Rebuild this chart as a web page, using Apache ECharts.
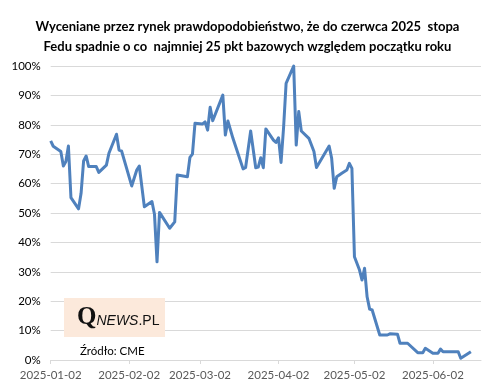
<!DOCTYPE html>
<html><head><meta charset="utf-8">
<script src="https://cdn.jsdelivr.net/npm/echarts@6/dist/echarts.min.js"></script>
<style>html,body{margin:0;padding:0;background:#fff}#c{width:495px;height:391px}</style>
</head><body><div id="c"></div>
<script>
const titleLines = ['Wyceniane przez rynek prawdopodobieństwo, że do czerwca 2025  stopa', 'Fedu spadnie o co  najmniej 25 pkt bazowych względem początku roku'];
const dates = ['2025-01-02','2025-01-03','2025-01-06','2025-01-07','2025-01-08','2025-01-09','2025-01-10','2025-01-13','2025-01-14','2025-01-15','2025-01-16','2025-01-17','2025-01-20','2025-01-21','2025-01-24','2025-01-25','2025-01-28','2025-01-29','2025-01-30','2025-02-01','2025-02-03','2025-02-05','2025-02-06','2025-02-08','2025-02-11','2025-02-12','2025-02-13','2025-02-14','2025-02-18','2025-02-20','2025-02-21','2025-02-25','2025-02-26','2025-02-27','2025-02-28','2025-03-03','2025-03-04','2025-03-05','2025-03-06','2025-03-07','2025-03-11','2025-03-12','2025-03-13','2025-03-15','2025-03-19','2025-03-20','2025-03-22','2025-03-24','2025-03-25','2025-03-26','2025-03-27','2025-03-28','2025-03-31','2025-04-01','2025-04-02','2025-04-03','2025-04-04','2025-04-05','2025-04-08','2025-04-09','2025-04-10','2025-04-11','2025-04-14','2025-04-16','2025-04-17','2025-04-22','2025-04-23','2025-04-24','2025-04-25','2025-04-27','2025-04-29','2025-04-30','2025-05-01','2025-05-02','2025-05-04','2025-05-05','2025-05-06','2025-05-07','2025-05-08','2025-05-09','2025-05-12','2025-05-15','2025-05-16','2025-05-19','2025-05-20','2025-05-23','2025-05-27','2025-05-29','2025-05-30','2025-06-02','2025-06-04','2025-06-05','2025-06-06','2025-06-12','2025-06-13','2025-06-17'];
const probability = [74.5,72.7,70.9,66.0,67.5,72.8,55.2,51.4,56.7,67.7,69.4,65.8,65.8,63.8,66.3,70.3,76.8,71.4,71.1,65.2,59.2,64.6,66.0,52.1,53.9,49.6,33.4,50.2,44.8,47.0,62.9,62.3,68.9,70.0,80.5,80.3,81.0,78.2,86.0,81.4,90.1,76.5,81.3,75.4,65.0,65.5,77.9,65.4,65.6,68.8,65.4,78.6,74.8,74.0,75.6,67.2,79.0,94.1,100,73.1,84.5,77.9,75.4,70.9,65.5,72.8,68.6,58.4,62.3,63.5,64.6,66.9,65.2,35.1,30.6,27.2,31.2,21.5,17.3,17.0,8.5,8.5,8.9,8.8,5.7,5.7,2.5,2.5,4.0,2.3,2.3,3.7,2.8,2.8,0.6,2.8];
const xTickDates = ['2025-01-02','2025-02-02','2025-03-02','2025-04-02','2025-05-02','2025-06-02'];
const xMin = '2025-01-02', xMax = '2025-06-21';
const sourceText = 'Źródło: CME';

function ts(s){const p=s.split('-').map(Number);return Date.UTC(p[0],p[1]-1,p[2]);}
function fmt(v){const d=new Date(v);const p=n=>String(n).padStart(2,'0');return d.getUTCFullYear()+'-'+p(d.getUTCMonth()+1)+'-'+p(d.getUTCDate());}
const tickVals = xTickDates.map(ts);
const chart = echarts.init(document.getElementById('c'), null, {renderer:'canvas'});
chart.setOption({
  animation:false,
  title:{text:titleLines.join('\n'), left:'center', top:12, textStyle:{fontFamily:'Lato', fontWeight:'bold', fontSize:13, lineHeight:20, color:'#000'}},
  grid:{left:50.7, right:14, top:66, bottom:31},
  xAxis:{type:'value', min:ts(xMin), max:ts(xMax),
    axisLine:{lineStyle:{color:'#d9d9d9'}},
    axisTick:{show:true, customValues:tickVals, length:4, lineStyle:{color:'#d9d9d9'}},
    axisLabel:{customValues:tickVals, formatter:v=>fmt(v), color:'#595959', fontFamily:'Lato', fontSize:11.5, margin:9, hideOverlap:false},
    splitLine:{show:false}},
  yAxis:{type:'value', min:0, max:100, interval:10,
    axisLabel:{formatter:'{value}%', color:'#000', fontFamily:'Lato', fontSize:11.5, margin:10},
    axisLine:{show:false}, axisTick:{show:false},
    splitLine:{lineStyle:{color:'#d9d9d9', width:1}}},
  series:[{type:'line', data:dates.map((d,i)=>[ts(d),probability[i]]), showSymbol:false, clip:false,
    lineStyle:{color:'#4f81bd', width:3, join:'round'}, itemStyle:{color:'#4f81bd'}}],
  graphic:[
    {type:'rect', shape:{x:64, y:298, width:101, height:39}, style:{fill:'#fce9db'}, z:10},
    {type:'text', x:77, y:318, z:11, style:{
      text:'{q|Q}{n|NEWS}{p|.PL}', verticalAlign:'middle',
      rich:{
        q:{font:'bold 25px "Liberation Serif"', fill:'#111', verticalAlign:'bottom'},
        n:{font:'italic 14px "Liberation Sans"', fill:'#111', verticalAlign:'bottom', padding:[0,0,2,0]},
        p:{font:'14px "Liberation Sans"', fill:'#111', verticalAlign:'bottom', padding:[0,0,2,0]}
      }}},
    {type:'text', x:80, y:345, style:{text:sourceText, font:'11.5px Lato', fill:'#000'}, z:11}
  ]
});
</script></body></html>
